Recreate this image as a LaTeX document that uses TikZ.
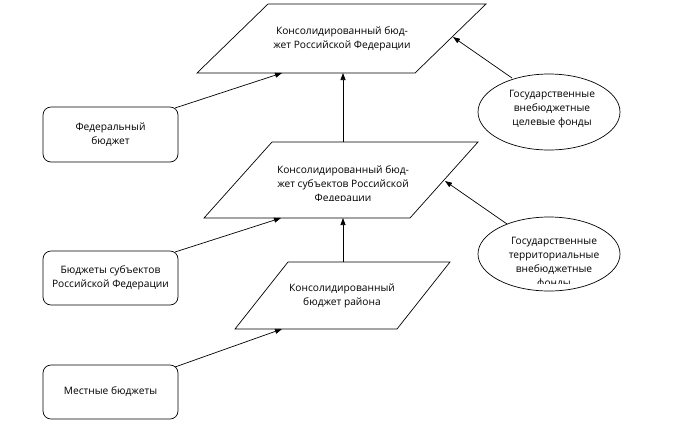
\documentclass[tikz,border=0pt]{standalone}
\usepackage{fontspec}
\setmainfont{Open Sans}
\usetikzlibrary{arrows.meta,shapes.geometric}
\begin{document}
\begin{tikzpicture}[x=1pt,y=-1pt,
  shp/.style={draw=black,line width=0.7pt},
  lbl/.style={align=center,font=\fontsize{10.2}{14}\selectfont,inner sep=0pt},
  rbox/.style={draw=black,line width=0.7pt,rounded corners=8pt},
  arr/.style={draw=black,line width=0.7pt,-{Triangle[length=7pt,width=5pt]}}]
\useasboundingbox (0,0) rectangle (676,440);
% parallelograms
\draw[shp] (197,73) coordinate (p1bl) -- (415,73) coordinate (p1br) -- (486,4) coordinate (p1tr) -- (268,4) coordinate (p1tl) -- cycle;
\draw[shp] (204,218) coordinate (p2bl) -- (410,218) coordinate (p2br) -- (478,142) coordinate (p2tr) -- (272,142) coordinate (p2tl) -- cycle;
\draw[shp] (235,329) coordinate (p3bl) -- (397,329) coordinate (p3br) -- (450,262) coordinate (p3tr) -- (288,262) coordinate (p3tl) -- cycle;
\node[lbl] (t1) at (342,39) {Консолидированный бюд-\\жет Российской Федерации};
\begin{scope}
\clip (250,150) rectangle (450,200);
\node[lbl] (t2) at (343,184.5) {Консолидированный бюд-\\жет субъектов Российской\\Федерации};
\end{scope}
\node[lbl] (t3) at (342,295.5) {Консолидированный\\бюджет района};
% ellipses
\draw[shp] (549,112) ellipse [x radius=71, y radius=38];
\node[lbl] (e1) at (552,109) {Государственные\\внебюджетные\\целевые фонды};
\draw[shp] (549,254) ellipse [x radius=71, y radius=37];
\begin{scope}
\clip (480,225) rectangle (620,283);
\node[lbl] (e2) at (554,263.5) {Государственные\\территориальные\\внебюджетные\\фонды};
\end{scope}
% rounded boxes
\node[rbox,minimum width=135pt,minimum height=55pt,lbl] (r1) at (110.5,134.5) {Федеральный\\бюджет};
\node[rbox,minimum width=135pt,minimum height=54pt,lbl] (r2) at (110.5,278) {Бюджеты субъектов\\Российской Федерации};
\node[rbox,minimum width=135pt,minimum height=54pt,lbl] (r3) at (110.5,392) {Местные бюджеты};
% connector coordinates
\coordinate (a1s) at (175,108);
\coordinate (a1e) at (282,73);
\coordinate (a2s) at (343,142);
\coordinate (a2e) at (343,73);
\coordinate (a3s) at (512,78);
\coordinate (a3e) at (453,37);
\coordinate (a4s) at (175,252);
\coordinate (a4e) at (281,218);
\coordinate (a5s) at (343,262);
\coordinate (a5e) at (343,218);
\coordinate (a6s) at (507,224);
\coordinate (a6e) at (445,181);
\coordinate (a7s) at (175,367);
\coordinate (a7e) at (282,329);
\draw[arr] (a1s) -- (a1e);
\draw[arr] (a2s) -- (a2e);
\draw[arr] (a3s) -- (a3e);
\draw[arr] (a4s) -- (a4e);
\draw[arr] (a5s) -- (a5e);
\draw[arr] (a6s) -- (a6e);
\draw[arr] (a7s) -- (a7e);
\end{tikzpicture}
\end{document}
